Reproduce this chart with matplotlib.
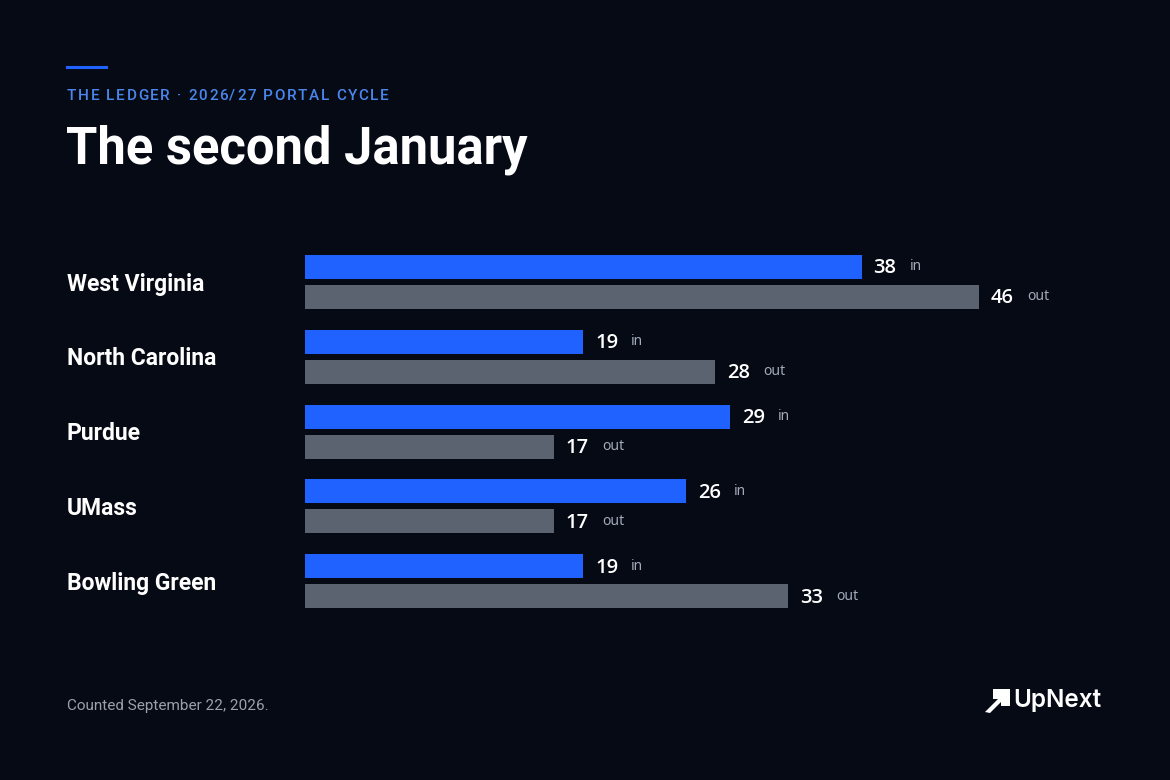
import matplotlib.pyplot as plt
import matplotlib.transforms as mtransforms
from matplotlib.patches import Polygon

teams = ["West Virginia", "North Carolina", "Purdue", "UMass", "Bowling Green"]
players_in = [38, 19, 29, 26, 19]
players_out = [46, 28, 17, 17, 33]

W, H = 1170, 780
BG = "#060a15"
BLUE = "#1f62ff"
GRAY = "#5b6370"
PX_PER_UNIT = 14.65

fig = plt.figure(figsize=(W / 100, H / 100), dpi=100, facecolor=BG)
renderer = fig.canvas.get_renderer()


def spaced_text(x_px, y_px, s, spacing_px, **kw):
    # draw text char by char to mimic letter spacing
    x = x_px
    for ch in s:
        t = fig.text(x / W, 1 - y_px / H, ch, va="center", ha="left", **kw)
        w = t.get_window_extent(renderer).width
        x += w + spacing_px


# axes in pixel-ish units: y from 240 (top) to 630 (bottom)
ax = fig.add_axes([305 / W, 1 - 630 / H, 795 / W, 390 / H])
ax.set_facecolor(BG)
ax.set_xlim(0, 795 / PX_PER_UNIT)
ax.set_ylim(390, 0)
ax.axis("off")

pitch = 74.8
trans = mtransforms.blended_transform_factory(fig.transFigure, ax.transData)
for i, team in enumerate(teams):
    y_in = 27 + pitch * i
    y_out = 57 + pitch * i
    ax.barh(y_in, players_in[i], height=24, color=BLUE, left=0)
    ax.barh(y_out, players_out[i], height=24, color=GRAY, left=0)
    for y, v, tag in [(y_in, players_in[i], "in"), (y_out, players_out[i], "out")]:
        ax.annotate(str(v), (v, y), xytext=(8.5, -1), textcoords="offset points",
                    ha="left", va="center", color="white", fontsize=14.5,
                    family="Open Sans", fontweight="semibold")
        ax.annotate(tag, (v, y), xytext=(34.5, 0), textcoords="offset points",
                    ha="left", va="center", color="#a3abb9", fontsize=10,
                    family="Noto Sans")
    ax.text(67 / W, 44 + pitch * i, team, transform=trans, ha="left", va="center",
            color="white", fontsize=16.5, family="Roboto", fontweight="bold")

# header
fig.add_artist(plt.Line2D([67 / W, 106 / W], [1 - 67 / H] * 2, color=BLUE, lw=2.2))
spaced_text(67, 96, "THE LEDGER · 2026/27 PORTAL CYCLE", 1.65, color="#4a86ec",
            fontsize=11, family="Roboto", fontweight="medium")
fig.text(66 / W, 1 - 150 / H, "The second January", color="white", fontsize=36.5,
         family="Roboto", fontweight="bold", va="center", ha="left")

# footer
fig.text(67 / W, 1 - 706 / H, "Counted September 22, 2026.", color="#9ba1ab",
         fontsize=11, family="Roboto", va="center", ha="left")

# logo
icon = [(985, 712), (998, 699), (993, 699), (993, 689), (1010, 689), (1010, 706),
        (1001, 706), (1001, 702), (990, 713)]
fig.add_artist(Polygon([(x / W, 1 - y / H) for x, y in icon], closed=True,
                       transform=fig.transFigure, color="white", lw=0))
fig.text(1013 / W, 1 - 700 / H, "UpNext", color="white", fontsize=17.5,
         family="Inter", fontweight="semibold", va="center", ha="left")

fig.savefig("out.png", dpi=100, facecolor=BG)
